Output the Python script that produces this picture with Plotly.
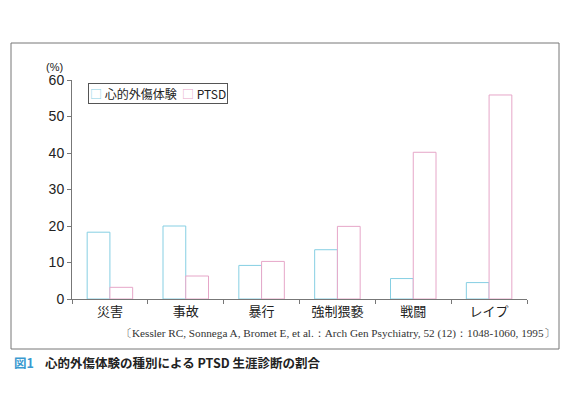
import plotly.graph_objects as go

categories = ["災害", "事故", "暴行", "強制猥褻", "戦闘", "レイプ"]
trauma = [18.3, 20.0, 9.2, 13.5, 5.6, 4.5]
ptsd = [3.2, 6.3, 10.3, 19.9, 40.2, 55.9]
y_ticks = [0, 10, 20, 30, 40, 50, 60]

CYAN = "#86cfe3"
PINK = "#e6a6c8"
JP = "Noto Sans CJK JP"

# page is offset by the browser's 8px body margin
OFF = 8
W, H = 588 - OFF, 416 - OFF
# plot area in window pixels: x 72..527, y 80..299
L, R, T, B = 72, 527, 80, 299


def px(x):
    return (x - L) / (R - L)


def py(y):
    return (B - y) / (B - T)


fig = go.Figure()
fig.add_trace(go.Bar(
    x=categories, y=trauma, name="心的外傷体験",
    marker={"color": "white", "line": {"color": CYAN, "width": 1}},
))
fig.add_trace(go.Bar(
    x=categories, y=ptsd, name="PTSD",
    marker={"color": "white", "line": {"color": PINK, "width": 1}},
))

fig.update_layout(
    width=W, height=H,
    margin={"l": L - OFF, "r": 588 - R, "t": T - OFF, "b": 416 - B, "pad": 0},
    paper_bgcolor="white", plot_bgcolor="white",
    barmode="group", bargap=0.4, bargroupgap=0,
    font={"family": JP, "size": 12, "color": "#333"},
    showlegend=False,
)
fig.update_yaxes(
    range=[0, 60], tickvals=y_ticks, showgrid=False, zeroline=False,
    showline=True, linecolor="#777", linewidth=1,
    ticks="outside", ticklen=4, tickcolor="#777",
    tickfont={"family": "Liberation Sans", "size": 14, "color": "#222"},
)
fig.update_xaxes(
    showline=True, linecolor="#777", linewidth=1, showgrid=False,
    ticks="outside", ticklen=4, tickcolor="#777", tickson="boundaries",
    tickfont={"family": JP, "size": 13, "color": "#222"},
)

# outer frame around the chart
fig.add_shape(type="rect", xref="paper", yref="paper",
              x0=px(11), x1=px(559), y0=py(349), y1=py(43),
              line={"color": "#777", "width": 1})

# legend box
fig.add_annotation(
    text=(f"<span style='color:{CYAN}'>□</span> 心的外傷体験  "
          f"<span style='color:{PINK}'>□</span> PTSD"),
    xref="paper", yref="paper", x=px(88), y=py(83), xanchor="left", yanchor="top",
    showarrow=False, bordercolor="#555", borderwidth=1, borderpad=1, bgcolor="white",
    font={"family": JP, "size": 12, "color": "#222"})

fig.add_annotation(text="(%)", xref="paper", yref="paper", x=px(54), y=py(67),
                   xanchor="center", yanchor="middle", showarrow=False,
                   font={"family": "Liberation Sans", "size": 11, "color": "#222"})
fig.add_annotation(
    text="〔Kessler RC, Sonnega A, Bromet E, et al.：Arch Gen Psychiatry, 52 (12)：1048-1060, 1995〕",
    xref="paper", yref="paper", x=px(557), y=py(333), xanchor="right", yanchor="middle",
    showarrow=False, font={"family": "Liberation Serif", "size": 11.2, "color": "#333"})
fig.add_annotation(text="<b>図1</b>", xref="paper", yref="paper", x=px(12), y=py(362),
                   xanchor="left", yanchor="middle", showarrow=False,
                   font={"family": JP, "size": 12.5, "color": "#3a9ad0"})
fig.add_annotation(text="<b>心的外傷体験の種別による PTSD 生涯診断の割合</b>", xref="paper", yref="paper",
                   x=px(43), y=py(362), xanchor="left", yanchor="middle", showarrow=False,
                   font={"family": JP, "size": 12.5, "color": "#222"})

fig.write_html("out.html")
